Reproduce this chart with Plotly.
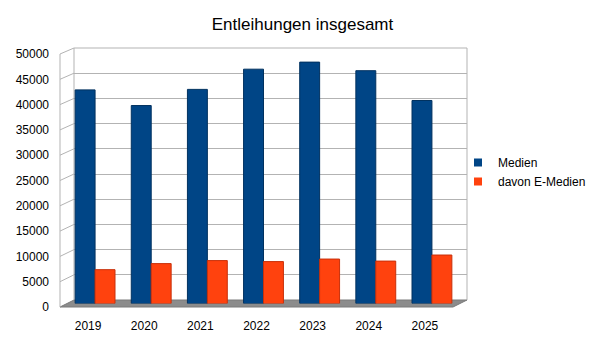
import plotly.graph_objects as go

# Data
years = ["2019", "2020", "2021", "2022", "2023", "2024", "2025"]
medien = [42300, 39200, 42400, 46400, 47800, 46100, 40200]
e_medien = [6700, 7900, 8500, 8300, 8800, 8400, 9600]
y_ticks = list(range(0, 50001, 5000))
y_ticktext = [str(v) for v in y_ticks]

W, H = 605, 340
BLUE = "#004586"
ORANGE = "#ff420e"
GRID = "#b3b3b3"
FONT = "Liberation Sans, Arial, sans-serif"

# pseudo-3D box (pixels): front plane, back wall, mid plane for the bars
ML, MR, MT, MB = 60, 138, 48, 33
PW, PH = W - ML - MR, H - MT - MB


def px_x(x):
    return (x - ML) / PW


def px_y(y):
    return (H - MB - y) / PH


front = dict(x0=60, x1=453, y0=307, y1=54)
back = dict(x0=74, x1=467, y0=300, y1=48)
mid = dict(x0=67, x1=460, y0=303.5, y1=51)


def dom(p):
    return [px_x(p["x0"]), px_x(p["x1"])], [px_y(p["y0"]), px_y(p["y1"])]


bx, by = dom(back)
mx, my = dom(mid)
fx, fy = dom(front)

fig = go.Figure()

fig.add_trace(go.Bar(x=years, y=medien, name="Medien", marker=dict(color=BLUE, line=dict(color="#00315f", width=1)),
                     xaxis="x2", yaxis="y2", showlegend=False))
fig.add_trace(go.Bar(x=years, y=e_medien, name="davon E-Medien", marker=dict(color=ORANGE, line=dict(color="#c8300a", width=1)),
                     xaxis="x2", yaxis="y2", showlegend=False))

# legend entries
fig.add_trace(go.Scatter(x=[None], y=[None], mode="markers", name="Medien",
                         marker=dict(symbol="square", size=8, color=BLUE), xaxis="x2", yaxis="y2"))
fig.add_trace(go.Scatter(x=[None], y=[None], mode="markers", name="davon E-Medien",
                         marker=dict(symbol="square", size=8, color=ORANGE), xaxis="x2", yaxis="y2"))

# carriers for the back wall grid and the front tick labels
fig.add_trace(go.Scatter(x=years, y=[None] * len(years), xaxis="x", yaxis="y", showlegend=False, hoverinfo="skip"))
fig.add_trace(go.Scatter(x=years, y=[None] * len(years), xaxis="x3", yaxis="y3", showlegend=False, hoverinfo="skip"))

cat_range = [-0.5, len(years) - 0.5]
common_x = dict(type="category", range=cat_range, fixedrange=True, showline=False, zeroline=False, automargin=False)
common_y = dict(range=[0, 50000], tickvals=y_ticks, ticktext=y_ticktext, fixedrange=True, showline=False,
                zeroline=False, automargin=False)

shapes = []
# floor
shapes.append(dict(type="path", xref="paper", yref="paper",
                   path=f"M {px_x(60)} {px_y(307)} L {px_x(74)} {px_y(300)} L {px_x(467)} {px_y(300)} L {px_x(453)} {px_y(307)} Z",
                   fillcolor="#8c8c8c", line=dict(color="#7a7a7a", width=1), layer="below"))
# left wall grid lines
for t in y_ticks:
    yf = front["y0"] + (front["y1"] - front["y0"]) * t / 50000
    yb = back["y0"] + (back["y1"] - back["y0"]) * t / 50000
    if t == 0:
        continue
    shapes.append(dict(type="line", xref="paper", yref="paper", x0=px_x(60), y0=px_y(yf), x1=px_x(74), y1=px_y(yb),
                       line=dict(color=GRID, width=1), layer="below"))
# wall edges
for (x0, y0, x1, y1) in [(60, 54, 60, 307), (74, 48, 74, 300), (74, 48, 467, 48), (467, 48, 467, 300)]:
    shapes.append(dict(type="line", xref="paper", yref="paper", x0=px_x(x0), y0=px_y(y0), x1=px_x(x1), y1=px_y(y1),
                       line=dict(color=GRID, width=1), layer="below"))

fig.update_layout(
    width=W, height=H,
    margin=dict(l=ML, r=MR, t=MT, b=MB, autoexpand=False),
    paper_bgcolor="white", plot_bgcolor="rgba(0,0,0,0)",
    font=dict(family=FONT, size=12, color="#000000"),
    title=dict(text="Entleihungen insgesamt", x=0.5, xref="container", xanchor="center",
               y=1 - 24 / H, yref="container", yanchor="middle", font=dict(size=17, family=FONT)),
    barmode="group", bargap=0.29, bargroupgap=0,
    xaxis=dict(**common_x, domain=bx, anchor="y", showgrid=False, showticklabels=False),
    yaxis=dict(**common_y, domain=by, anchor="x", showgrid=True, gridcolor=GRID, gridwidth=1, showticklabels=False),
    xaxis2=dict(**common_x, domain=mx, anchor="y2", showgrid=False, showticklabels=False),
    yaxis2=dict(**common_y, domain=my, anchor="x2", showgrid=False, showticklabels=False),
    xaxis3=dict(**common_x, domain=fx, anchor="y3", showgrid=False, showticklabels=True, ticklabelstandoff=10),
    yaxis3=dict(**common_y, domain=fy, anchor="x3", showgrid=False, showticklabels=True, ticklabelstandoff=10),
    legend=dict(x=(478 - 20) / W, xref="container", xanchor="left", y=1 - 148 / H, yref="container", yanchor="top",
                font=dict(size=12, family=FONT), itemwidth=30, bgcolor="rgba(0,0,0,0)", tracegroupgap=0),
    shapes=shapes,
)

fig.write_html("out.html")
